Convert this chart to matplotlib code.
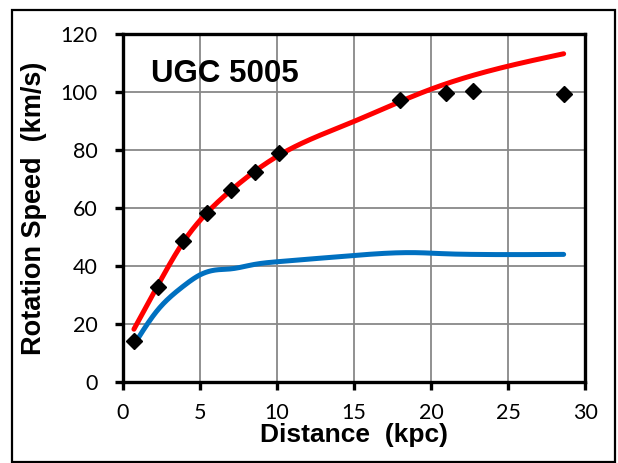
import numpy as np
import matplotlib
matplotlib.use("Agg")
import matplotlib.pyplot as plt
from matplotlib.patches import Rectangle

# measured rotation speeds
obs_r = [0.73, 2.3, 3.9, 5.44, 7.0, 8.57, 10.14, 17.96, 21.0, 22.7, 28.6]
obs_v = [14.1, 32.7, 48.7, 58.4, 66.2, 72.5, 78.9, 97.2, 99.8, 100.2, 99.3]

# model curve (red)
model_r = [0.73, 2.3, 3.9, 5.44, 7.0, 10.14, 14.7, 20.0, 28.6]
model_v = [18.2, 33.5, 48.0, 58.2, 66.0, 78.2, 89.2, 101.0, 113.2]

# visible matter curve (blue)
vis_r = [0.73, 2.3, 3.0, 3.9, 5.0, 6.0, 7.0, 8.5, 10.1, 14.7, 19.0, 21.0, 22.7, 28.6]
vis_v = [12.8, 25.0, 28.9, 32.9, 36.9, 38.6, 39.0, 40.5, 41.5, 43.5, 44.6, 44.2, 44.0, 44.0]


def spline(x, y, n=600):
    # natural cubic spline through the points, evaluated on a fine grid
    x = np.asarray(x, float)
    y = np.asarray(y, float)
    k = len(x)
    h = np.diff(x)
    A = np.zeros((k, k))
    b = np.zeros(k)
    A[0, 0] = A[-1, -1] = 1.0
    for i in range(1, k - 1):
        A[i, i - 1] = h[i - 1]
        A[i, i] = 2 * (h[i - 1] + h[i])
        A[i, i + 1] = h[i]
        b[i] = 6 * ((y[i + 1] - y[i]) / h[i] - (y[i] - y[i - 1]) / h[i - 1])
    m = np.linalg.solve(A, b)
    xs = np.linspace(x[0], x[-1], n)
    j = np.clip(np.searchsorted(x, xs) - 1, 0, k - 2)
    t0 = xs - x[j]
    t1 = x[j + 1] - xs
    hj = h[j]
    ys = (m[j] * t1 ** 3 / (6 * hj) + m[j + 1] * t0 ** 3 / (6 * hj)
          + (y[j] / hj - m[j] * hj / 6) * t1 + (y[j + 1] / hj - m[j + 1] * hj / 6) * t0)
    return xs, ys


fig = plt.figure(figsize=(6.18, 4.63), dpi=100)
ax = fig.add_axes([0.1985, 0.175, 0.7485, 0.7515])

mx, my = spline(model_r, model_v)
vx, vy = spline(vis_r, vis_v)
ax.plot(vx, vy, color="#0070C0", lw=3.6, solid_capstyle="round", zorder=3)
ax.plot(mx, my, color="#FF0000", lw=3.6, solid_capstyle="round", zorder=3)
ax.plot(obs_r, obs_v, linestyle="none", marker="D", ms=8, color="black", zorder=4)

ax.set_xlim(0, 30)
ax.set_ylim(0, 120)
ax.set_xticks(np.arange(0, 31, 5))
ax.set_yticks(np.arange(0, 121, 20))
ax.grid(True, color="#888888", lw=1.3)
ax.set_axisbelow(True)
for s in ax.spines.values():
    s.set_linewidth(2.4)
    s.set_color("black")
ax.tick_params(direction="out", length=6, width=2.4, labelsize=15.5)
ax.tick_params(axis="x", pad=9)
ax.tick_params(axis="y", pad=12)
for lab in ax.get_xticklabels() + ax.get_yticklabels():
    lab.set_fontfamily("Lato")

ax.set_xlabel("Distance  (kpc)", fontsize=19, fontweight="bold",
              family="Liberation Sans", labelpad=0)
ax.set_ylabel("Rotation Speed  (km/s)", fontsize=19.5, fontweight="bold",
              family="Liberation Sans", labelpad=10)
ax.text(0.062, 0.885, "UGC 5005", transform=ax.transAxes, fontsize=22.5,
        fontweight="bold", family="Liberation Sans", va="center")

# chart frame
fig.patches.append(Rectangle((12 / 618, 1 - 462 / 463), 603 / 618, 452 / 463,
                             transform=fig.transFigure, fill=False,
                             edgecolor="black", lw=1.6))

fig.savefig("out.png", dpi=100)
